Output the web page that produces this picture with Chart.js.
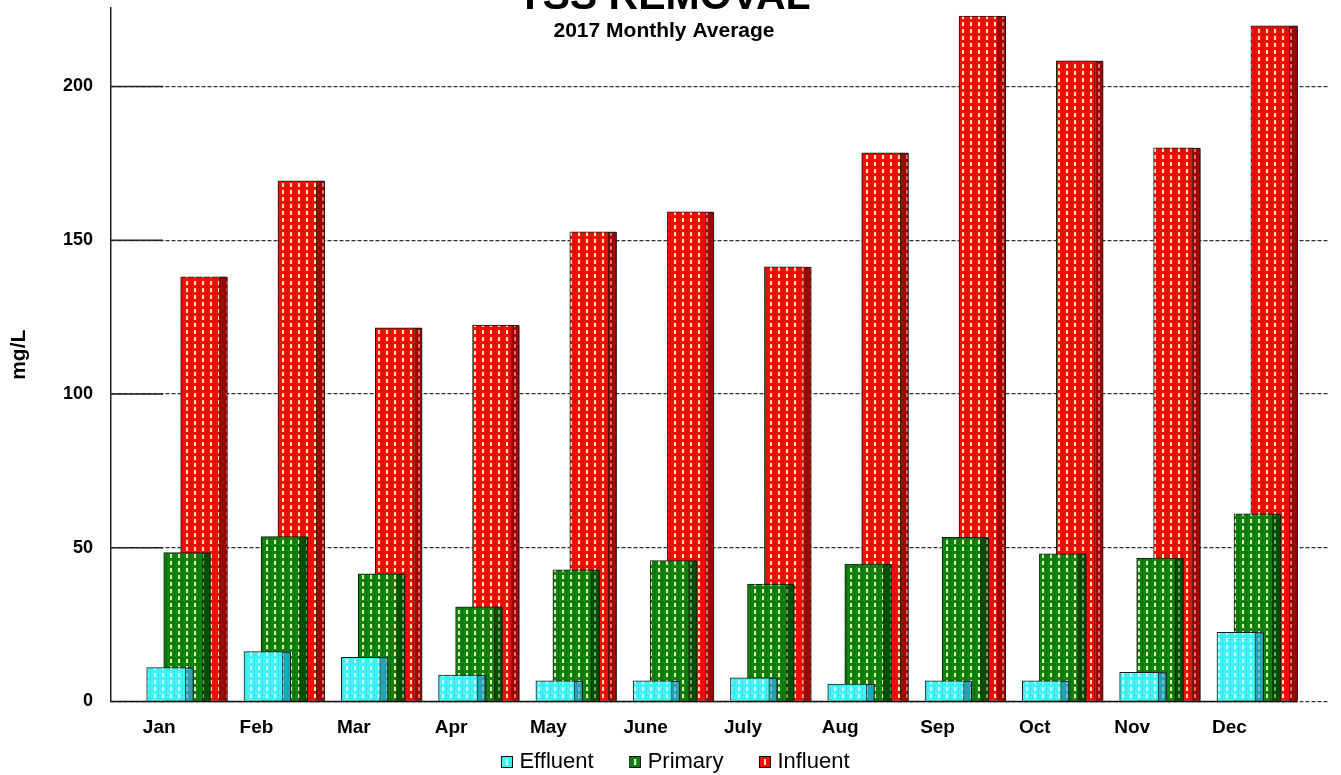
<!DOCTYPE html>
<html>
<head>
<meta charset="utf-8">
<script src="https://cdn.jsdelivr.net/npm/chart.js@4.4.0/dist/chart.umd.min.js"></script>
<style>
html,body{margin:0;padding:0;background:#fff;}
#wrap{width:1341px;height:775px;position:relative;}
</style>
</head>
<body>
<div id="wrap"><canvas id="c"></canvas></div>
<script>
// ---- data ----
const months = ['Jan','Feb','Mar','Apr','May','June','July','Aug','Sep','Oct','Nov','Dec'];
const effluent = [11.0, 16.2, 14.4, 8.6, 6.7, 6.7, 7.7, 5.7, 6.7, 6.7, 9.5, 22.5];
const primary  = [48.4, 53.6, 41.5, 30.8, 42.8, 45.8, 38.2, 44.7, 53.4, 48.0, 46.6, 61.0];
const influent = [138.1, 169.3, 121.5, 122.4, 152.7, 159.2, 141.3, 178.4, 222.9, 208.3, 180.0, 219.7];
const yTicks = [0, 50, 100, 150, 200];

// ---- layout / style constants ----
const F = "'Liberation Sans', Arial, sans-serif";
const X_MIN = -0.495, X_MAX = 12.013;
const SHIFT = [0.072, 0.247, 0.421];   // depth offset of each series inside a month
const BAR_W = 39, DEPTH = 7.5, WALL = 52;

const ctx0 = document.getElementById('c').getContext('2d');
function tile(bg, dash, line) {
  const c = document.createElement('canvas');
  c.width = 8; c.height = 7;
  const g = c.getContext('2d');
  g.fillStyle = bg; g.fillRect(0, 0, 8, 7);
  if (line) { g.fillStyle = line; for (let k = 0; k < 7; k += 2) g.fillRect(6, k, 1, 1); }
  g.fillStyle = dash; g.fillRect(2, 1, 2, 4);
  return ctx0.createPattern(c, 'repeat');
}
const pat = {
  cyan: tile('#3ef4f4', '#c8ffff', '#2fd8dc'),
  cyanSide: tile('#27a2b4', '#6cc8d2', null),
  green: tile('#118211', '#dff3a8', '#005a00'),
  greenSide: tile('#004e00', '#6fa46f', null),
  red: tile('#ff0a0a', '#ffe9b4', '#c80000'),
  redSide: tile('#a00000', '#e07070', null)
};

// legend swatches: transparent lead-in + 12px box at the right end
const LEG_W = 30, LEG_IMG_W = 39;
function swatch(fill, mark) {
  const c = document.createElement('canvas');
  c.width = LEG_IMG_W; c.height = 12;
  const g = c.getContext('2d');
  const x0 = LEG_IMG_W - 12;
  g.fillStyle = fill; g.fillRect(x0, 0, 12, 12);
  g.fillStyle = mark; g.fillRect(x0 + 5, 3, 2, 6);
  g.strokeStyle = '#111'; g.lineWidth = 1; g.strokeRect(x0 + 0.5, 0.5, 11, 11);
  return c;
}
const legendSwatches = [swatch('#3ef4f4', '#c8ffff'), swatch('#118211', '#f0f8d8'), swatch('#ff0a0a', '#ffe9b4')];

function series(vals, s) { return vals.map((v, i) => ({ x: i + SHIFT[s], y: v })); }

const depthPlugin = {
  id: 'depth',
  afterDatasetDraw(chart, args) {
    const ds = chart.data.datasets[args.index];
    const ctx = chart.ctx;
    ctx.save();
    args.meta.data.forEach(el => {
      const p = el.getProps(['x', 'y', 'base', 'width'], true);
      const l = p.x + p.width / 2;
      ctx.fillStyle = ds.sideColor;
      ctx.fillRect(l, p.y, DEPTH, p.base - p.y);
      ctx.strokeStyle = '#1a1a1a';
      ctx.lineWidth = 1;
      ctx.beginPath();
      ctx.moveTo(l, p.y + 0.5); ctx.lineTo(l + DEPTH, p.y + 0.5); ctx.lineTo(l + DEPTH, p.base);
      ctx.stroke();
    });
    ctx.restore();
  }
};

const floorPlugin = {
  id: 'floor',
  beforeDatasetsDraw(chart) {
    const { ctx, chartArea, scales } = chart;
    ctx.save();
    ctx.strokeStyle = '#222'; ctx.lineWidth = 1.5;
    yTicks.filter(v => v > 0).forEach(v => {
      const py = scales.y.getPixelForValue(v);
      ctx.beginPath(); ctx.moveTo(chartArea.left, py); ctx.lineTo(chartArea.left + WALL, py); ctx.stroke();
    });
    ctx.restore();
  },
  afterDatasetsDraw(chart) {
    const { ctx, chartArea, scales } = chart;
    const meta = chart.getDatasetMeta(2);
    const el = meta.data[meta.data.length - 1];
    const end = el.x + el.width / 2 + DEPTH;
    const py = scales.y.getPixelForValue(0);
    ctx.save();
    ctx.strokeStyle = '#111'; ctx.lineWidth = 1.5;
    ctx.beginPath(); ctx.moveTo(chartArea.left, py); ctx.lineTo(end, py); ctx.stroke();
    ctx.restore();
  }
};

const barCommon = { borderColor: '#1a1a1a', borderWidth: 1, borderSkipped: 'start', barThickness: BAR_W, grouped: false };

new Chart(ctx0, {
  type: 'bar',
  data: {
    datasets: [
      Object.assign({ label: 'Effluent', data: series(effluent, 0), backgroundColor: pat.cyan, sideColor: pat.cyanSide }, barCommon),
      Object.assign({ label: 'Primary', data: series(primary, 1), backgroundColor: pat.green, sideColor: pat.greenSide }, barCommon),
      Object.assign({ label: 'Influent', data: series(influent, 2), backgroundColor: pat.red, sideColor: pat.redSide }, barCommon)
    ]
  },
  options: {
    responsive: true,
    maintainAspectRatio: false,
    animation: false,
    layout: { padding: { left: 0, right: 13, top: 0, bottom: -8 } },
    scales: {
      x: {
        type: 'linear', min: X_MIN, max: X_MAX, bounds: 'data', offset: false,
        afterBuildTicks: s => { s.ticks = months.map((m, i) => ({ value: i })); },
        ticks: {
          autoSkip: false, maxRotation: 0, minRotation: 0, color: '#000',
          font: { family: F, size: 19, weight: 'bold', lineHeight: 1 }, padding: 0.5,
          callback: v => months[v]
        },
        grid: { display: true, drawOnChartArea: false, drawTicks: true, tickLength: 16.5, tickColor: 'rgba(0,0,0,0)' },
        border: { display: false }
      },
      y: {
        min: 0, max: 225.5, bounds: 'data',
        afterBuildTicks: s => { s.ticks = yTicks.map(v => ({ value: v })); },
        ticks: { color: '#000', font: { family: F, size: 18, weight: 'bold', lineHeight: 0.8 }, padding: 0 },
        grid: { color: '#333', lineWidth: 1.3, drawTicks: true, tickLength: 18, tickColor: 'rgba(0,0,0,0)' },
        border: { display: true, color: '#222', width: 1.5, dash: [4, 2] },
        title: { display: true, text: 'mg/L', color: '#000', font: { family: F, size: 21, weight: 'bold' }, padding: { top: 6.9, bottom: 30.9 } }
      }
    },
    plugins: {
      title: { display: true, text: 'TSS REMOVAL', color: '#000', font: { family: F, size: 41, weight: 'bold', lineHeight: 1.2 }, padding: { top: -26.9, bottom: -20.3 } },
      subtitle: { display: true, text: '2017 Monthly Average', color: '#000', font: { family: F, size: 21, weight: 'bold', lineHeight: 1.2 }, padding: { top: 16.9, bottom: -36.1 } },
      legend: {
        position: 'bottom',
        labels: {
          color: '#000', font: { family: F, size: 22 }, boxWidth: 12, boxHeight: 12, padding: 13,
          usePointStyle: true, pointStyleWidth: LEG_W,
          generateLabels(chart) {
            const items = Chart.defaults.plugins.legend.labels.generateLabels(chart);
            items.forEach(it => { it.pointStyle = legendSwatches[it.datasetIndex]; });
            return items;
          }
        }
      },
      tooltip: { enabled: false }
    }
  },
  plugins: [depthPlugin, floorPlugin]
});
</script>
</body>
</html>
